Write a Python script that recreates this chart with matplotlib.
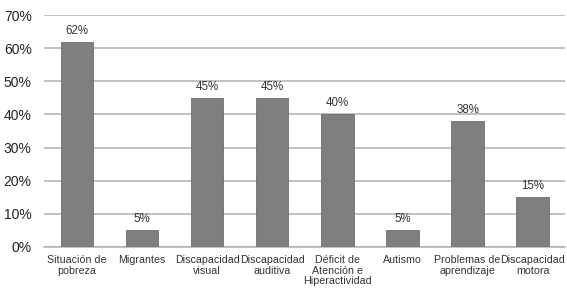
import matplotlib.pyplot as plt
import numpy as np

plt.rcParams['font.family'] = ['Liberation Sans', 'DejaVu Sans']

categories = ['Situación de\npobreza', 'Migrantes', 'Discapacidad\nvisual',
              'Discapacidad\nauditiva', 'Déficit de\nAtención e\nHiperactividad',
              'Autismo', 'Problemas de\naprendizaje', 'Discapacidad\nmotora']
values = [62, 5, 45, 45, 40, 5, 38, 15]
yticks = [0, 10, 20, 30, 40, 50, 60, 70]

fig = plt.figure(figsize=(5.67, 2.95), dpi=100)
ax = fig.add_axes([0.078, 0.163, 0.919, 0.786])

x = np.arange(len(categories))
ax.bar(x, values, width=0.5, color='#7f7f7f', edgecolor='#6e6e6e', linewidth=0.6, zorder=3)
for xi, v in zip(x, values):
    ax.text(xi, v + 1.5, '{}%'.format(v), ha='center', va='bottom', fontsize=8.3, color='#333333')

ax.set_xlim(-0.5, len(categories) - 0.5)
ax.set_ylim(0, 70)
ax.set_yticks(yticks)
ax.set_yticklabels(['{}%'.format(t) for t in yticks], fontsize=10, color='#222222')
ax.set_xticks(x)
ax.set_xticklabels(categories, fontsize=7.7, color='#333333', linespacing=1.05)
ax.tick_params(axis='both', length=0)
ax.tick_params(axis='y', pad=9)
ax.tick_params(axis='x', pad=6)
ax.yaxis.grid(True, color='#b0b0b0', linewidth=1.1, zorder=0)
for s in ['top', 'right', 'left']:
    ax.spines[s].set_visible(False)
ax.spines['bottom'].set_color('#b0b0b0')
ax.spines['bottom'].set_linewidth(1.1)

fig.savefig('out.png', dpi=100)
